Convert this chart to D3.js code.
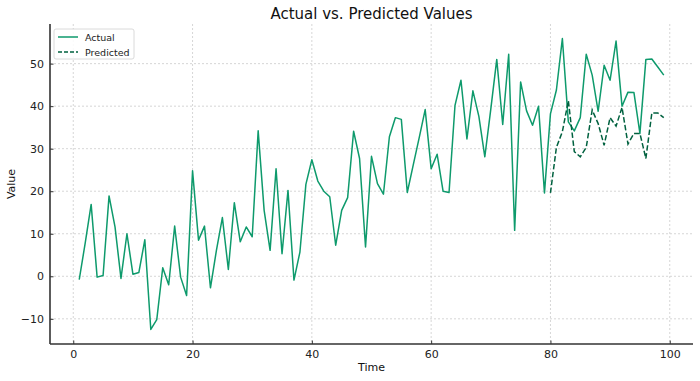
<!DOCTYPE html>
<html>
<head>
<meta charset="utf-8">
<script src="https://cdn.jsdelivr.net/npm/d3@7"></script>
<style>
  body { margin: 0; background: #fff; }
  svg { display: block; font-family: "DejaVu Sans", sans-serif; }
</style>
</head>
<body>
<div id="chart"></div>
<script>
// Dados
const actualTime = d3.range(1, 100);
const actualValues = [
  -0.8, 7.8, 16.9, -0.2, 0.2, 18.9, 11.6, -0.5, 10.0, 0.5,
  0.9, 8.6, -12.5, -10.2, 2.0, -2.0, 11.8, -0.2, -4.5, 24.8,
  8.5, 11.8, -2.7, 6.1, 13.8, 1.6, 17.3, 8.1, 11.6, 9.3,
  34.2, 15.5, 6.1, 25.3, 5.3, 20.2, -0.9, 5.7, 21.6, 27.4,
  22.4, 20.0, 18.7, 7.3, 15.5, 18.5, 34.1, 27.7, 6.9, 28.2,
  21.8, 19.3, 32.8, 37.3, 36.9, 19.7, 26.2, 32.6, 39.2, 25.3,
  28.7, 20.0, 19.7, 40.2, 46.1, 32.3, 43.6, 37.6, 28.1, 39.3,
  51.0, 35.7, 52.2, 10.8, 45.7, 38.9, 35.5, 40.0, 19.6, 38.2,
  43.8, 55.9, 36.3, 34.2, 37.3, 52.2, 47.3, 38.8, 49.6, 46.1,
  55.3, 40.0, 43.3, 43.2, 33.6, 51.0, 51.1, 49.2, 47.3
];
const predictedTime = d3.range(80, 100);
const predictedValues = [
  19.6, 30.3, 34.0, 41.3, 29.3, 28.1, 30.3, 39.1, 35.9, 30.8,
  37.3, 35.3, 39.7, 31.1, 33.6, 33.6, 27.7, 38.4, 38.4, 37.3
];
const xTicks = [0, 20, 40, 60, 80, 100];
const yTicks = [-10, 0, 10, 20, 30, 40, 50];

const colors = { actual: "#0e9a6c", predicted: "#00613f" };

const W = 700, H = 381;
const margin = { top: 24, right: 7, bottom: 37, left: 50 };

const svg = d3.select("#chart").append("svg")
  .attr("width", W).attr("height", H);

// Escalas com margem de 5% como no matplotlib
const xExt = d3.extent(actualTime);
const xPad = (xExt[1] - xExt[0]) * 0.05;
const x = d3.scaleLinear()
  .domain([xExt[0] - xPad, xExt[1] + xPad])
  .range([margin.left, W - margin.right]);

const allY = actualValues.concat(predictedValues);
const yExt = d3.extent(allY);
const yPad = (yExt[1] - yExt[0]) * 0.05;
const y = d3.scaleLinear()
  .domain([yExt[0] - yPad, yExt[1] + yPad])
  .range([H - margin.bottom, margin.top]);

// Grade
const grid = svg.append("g").attr("stroke", "#cccccc").attr("stroke-width", 0.8)
  .attr("stroke-dasharray", "2,2");
grid.selectAll("line.v").data(xTicks).enter().append("line")
  .attr("x1", (d) => x(d)).attr("x2", (d) => x(d))
  .attr("y1", margin.top).attr("y2", H - margin.bottom);
grid.selectAll("line.h").data(yTicks).enter().append("line")
  .attr("y1", (d) => y(d)).attr("y2", (d) => y(d))
  .attr("x1", margin.left).attr("x2", W - margin.right);

// Linhas
const line = d3.line().x((d) => x(d[0])).y((d) => y(d[1]));

svg.append("path")
  .datum(actualTime.map((t, i) => [t, actualValues[i]]))
  .attr("fill", "none")
  .attr("stroke", colors.actual)
  .attr("stroke-width", 1.5)
  .attr("stroke-linejoin", "round")
  .attr("d", line);

svg.append("path")
  .datum(predictedTime.map((t, i) => [t, predictedValues[i]]))
  .attr("fill", "none")
  .attr("stroke", colors.predicted)
  .attr("stroke-width", 1.5)
  .attr("stroke-dasharray", "5.5,2.4")
  .attr("d", line);

// Eixos
const xAxis = svg.append("g")
  .attr("transform", `translate(0,${H - margin.bottom})`)
  .call(d3.axisBottom(x).tickValues(xTicks).tickSize(-3.5).tickPadding(6));
const yAxis = svg.append("g")
  .attr("transform", `translate(${margin.left},0)`)
  .call(d3.axisLeft(y).tickValues(yTicks).tickSize(-3.5).tickPadding(6));

[xAxis, yAxis].forEach((ax) => {
  ax.select(".domain").attr("stroke", "#333").attr("stroke-width", 1.6);
  ax.selectAll(".tick line").attr("stroke", "#333");
  ax.selectAll(".tick text")
    .attr("font-size", "11px")
    .attr("font-family", "DejaVu Sans")
    .attr("fill", "#222");
});
xAxis.select(".domain").attr("d", `M${margin.left},0H${W - margin.right}`);
yAxis.select(".domain").attr("d", `M0,${margin.top}V${H - margin.bottom}`);
xAxis.selectAll(".tick text").attr("dy", "0.71em").attr("y", 6);

// Títulos
svg.append("text")
  .attr("x", (margin.left + W - margin.right) / 2)
  .attr("y", 19)
  .attr("text-anchor", "middle")
  .attr("font-size", "15px")
  .attr("fill", "#111")
  .text("Actual vs. Predicted Values");

svg.append("text")
  .attr("x", (margin.left + W - margin.right) / 2)
  .attr("y", 371)
  .attr("text-anchor", "middle")
  .attr("font-size", "11px")
  .attr("fill", "#111")
  .text("Time");

svg.append("text")
  .attr("transform", `translate(15,${(margin.top + H - margin.bottom) / 2}) rotate(-90)`)
  .attr("text-anchor", "middle")
  .attr("font-size", "11px")
  .attr("fill", "#111")
  .text("Value");

// Legenda
const legend = svg.append("g").attr("transform", "translate(54,29)");
legend.append("rect")
  .attr("width", 80).attr("height", 30)
  .attr("rx", 2).attr("ry", 2)
  .attr("fill", "#fff").attr("fill-opacity", 0.85)
  .attr("stroke", "#d0d0d0").attr("stroke-width", 0.8);

const legendItems = [
  { label: "Actual", color: colors.actual, dash: null },
  { label: "Predicted", color: colors.predicted, dash: "4,2" }
];
legendItems.forEach((d, i) => {
  const g = legend.append("g").attr("transform", `translate(4,${8 + i * 15})`);
  g.append("line")
    .attr("x1", 0).attr("x2", 20)
    .attr("stroke", d.color).attr("stroke-width", 1.5)
    .attr("stroke-dasharray", d.dash);
  g.append("text")
    .attr("x", 27).attr("y", 3.5)
    .attr("font-size", "9.5px")
    .attr("fill", "#222")
    .text(d.label);
});
</script>
</body>
</html>
